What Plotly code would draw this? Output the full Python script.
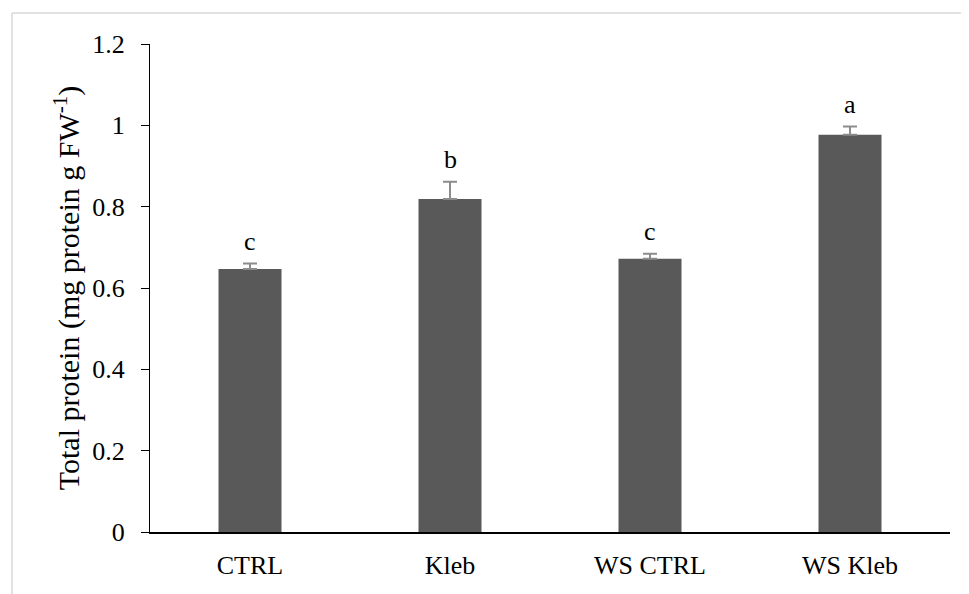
import plotly.graph_objects as go

categories = ["CTRL", "Kleb", "WS CTRL", "WS Kleb"]
values = [0.647, 0.819, 0.672, 0.977]
errors = [0.013, 0.042, 0.012, 0.02]
letters = ["c", "b", "c", "a"]
y_ticks = [0, 0.2, 0.4, 0.6, 0.8, 1, 1.2]
y_tick_labels = ["0", "0.2", "0.4", "0.6", "0.8", "1", "1.2"]

FONT = "Liberation Serif"

# page body has an 8px margin; figure spans 8..969 x 8..594
W, H = 961, 586
L, R, T, B = 142, 19, 36, 62
PW, PH = W - L - R, H - T - B

fig = go.Figure()
fig.add_trace(go.Bar(
    x=categories, y=values,
    marker=dict(color="#595959", line=dict(width=0)),
    width=0.315,
    error_y=dict(type="data", array=errors, arrayminus=[0]*len(errors),
                 symmetric=False, color="#8c8c8c", thickness=2, width=7),
))

for c, v, e, l in zip(categories, values, errors, letters):
    fig.add_annotation(x=c, y=v + e, text=l, showarrow=False,
                       yanchor="bottom", yshift=6,
                       font=dict(family=FONT, size=26, color="#000000"))

# light gray frame (page px 12,13 -> figure px 4,5)
fx0 = (4 - L) / PW
fx1 = (960 - L) / PW
fy_top = (H - B - 5) / PH
fig.add_shape(type="line", xref="paper", yref="paper",
              x0=fx0, x1=fx1, y0=fy_top, y1=fy_top,
              line=dict(color="#d9d9d9", width=1.5))
fig.add_shape(type="line", xref="paper", yref="paper",
              x0=fx0, x1=fx0, y0=fy_top, y1=-B / PH - 0.05,
              line=dict(color="#d9d9d9", width=1.5))

fig.update_layout(
    width=W, height=H,
    margin=dict(l=L, r=R, t=T, b=B),
    plot_bgcolor="white", paper_bgcolor="white",
    showlegend=False,
    font=dict(family=FONT, color="#000000"),
    bargap=0.685,
)
fig.update_xaxes(
    showline=True, linecolor="#000000", linewidth=1.5,
    ticks="", tickfont=dict(family=FONT, size=26, color="#000000"),
    ticklabelstandoff=9, showgrid=False, zeroline=False,
)
fig.update_yaxes(
    range=[0, 1.2], tickvals=y_ticks, ticktext=y_tick_labels,
    showline=True, linecolor="#000000", linewidth=1,
    ticks="outside", ticklen=8, tickcolor="#000000", tickwidth=1,
    tickfont=dict(family=FONT, size=26, color="#000000"),
    ticklabelstandoff=11,
    showgrid=False, zeroline=False,
    title=dict(text="Total protein (mg protein g FW<sup>-1</sup>)",
               font=dict(family=FONT, size=30, color="#000000"), standoff=3),
)

fig.write_html("out.html")
